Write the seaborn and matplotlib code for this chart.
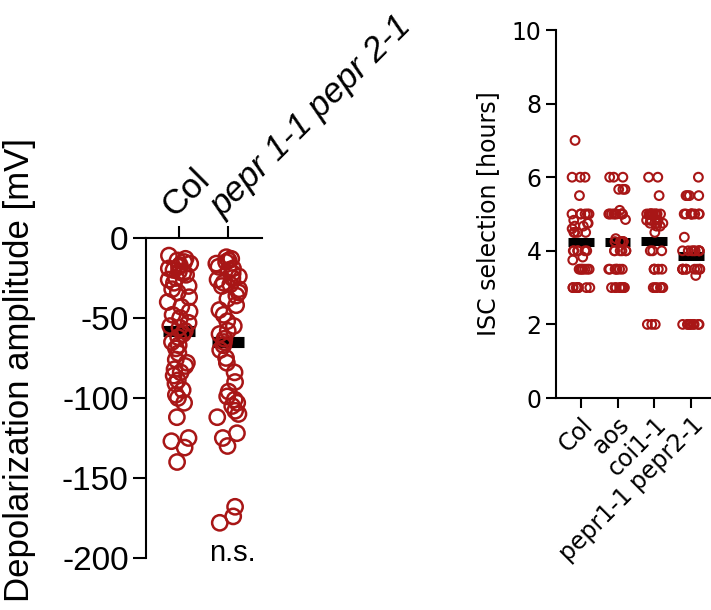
import numpy as np
import pandas as pd
import matplotlib
matplotlib.use('Agg')
import matplotlib.pyplot as plt
import seaborn as sns

# left panel: depolarization amplitude [mV]
depol_groups = ['Col', 'pepr 1-1 pepr 2-1']
col_depol = [-11, -13, -14, -15, -16, -17, -18, -19, -20, -21, -22, -23, -25, -26, -28, -30, -32, -34,
             -37, -40, -43, -46, -48, -50, -53, -55, -56, -58, -60, -62, -65, -67, -69,
             -72, -76, -78, -80, -82, -84, -86, -89, -91, -95, -98, -100, -103,
             -112, -125, -127, -131, -140]
pepr_depol = [-12, -13, -14, -15, -16, -18, -19, -20, -22, -24, -25, -26, -28, -29, -30, -32, -34, -36, -38,
              -42, -45, -48, -52, -55, -58, -60, -63, -65, -67, -70,
              -75, -78, -84, -90, -96, -99, -101, -103, -105, -108, -110, -112,
              -122, -125, -130, -168, -174, -178]

# right panel: ISC selection [hours]
isc_groups = ['Col', 'aos', 'coi1-1', 'pepr1-1 pepr2-1']
isc_col = [7, 6, 6, 6, 5.5, 5, 5, 5, 5, 5, 5,
           4.83, 4.75, 4.75, 4.67, 4.67, 4.6, 4.5, 4.5, 4.5, 4.5,
           4, 4, 4, 4, 4, 4, 3.83, 3.75,
           3.5, 3.5, 3.5, 3.5, 3.5, 3.5, 3.5,
           3, 3, 3, 3, 3, 3, 3, 3]
isc_aos = [6, 6, 6, 5.67, 5.67, 5.67, 5.1, 5, 5, 5, 5, 5, 5, 5, 5, 5, 5, 4.85, 4.33,
           4.25, 4.25, 4.25, 4.25, 4.25, 4, 4, 4, 4, 4, 4,
           3.5, 3.5, 3.5, 3.5, 3.5, 3.5, 3.5,
           3, 3, 3, 3, 3, 3, 3, 3, 3, 3]
isc_coi = [6, 6, 5.5, 5, 5, 5, 5, 5, 5, 5, 5, 5, 5, 5, 5,
           4.83, 4.83, 4.83, 4.83, 4.75, 4.75, 4.75, 4.75, 4.67, 4.67, 4.5,
           4, 4, 4, 3.5, 3.5, 3.5, 3.5, 3.5,
           3, 3, 3, 3, 3, 3, 2, 2, 2]
isc_pepr = [6, 5.5, 5.5, 5.5, 5.5, 5, 5, 5, 5, 5, 5, 5, 5, 5, 4.37,
            4, 4, 4, 4, 4, 4, 4, 4,
            3.5, 3.5, 3.5, 3.5, 3.5, 3.5, 3.5, 3.5, 3.5, 3.33,
            2, 2, 2, 2, 2, 2, 2, 2, 2]

red = '#A81616'

sns.set_style('ticks')
plt.rcParams['font.family'] = ['Liberation Sans', 'DejaVu Sans']
plt.rcParams['axes.unicode_minus'] = False
for key in ['text.color', 'axes.labelcolor', 'xtick.color', 'ytick.color', 'axes.edgecolor']:
    plt.rcParams[key] = 'black'

fig = plt.figure(figsize=(7.11, 6.10), dpi=100)
ax1 = fig.add_axes([146 / 711, 1 - 558 / 610, 116 / 711, 320 / 610])
ax2 = fig.add_axes([556 / 711, 1 - 398 / 610, 155 / 711, 368 / 610])

# ---- left panel
df1 = pd.DataFrame({
    'group': [depol_groups[0]] * len(col_depol) + [depol_groups[1]] * len(pepr_depol),
    'amp': col_depol + pepr_depol,
})
np.random.seed(7)
sns.stripplot(data=df1, x='group', y='amp', order=depol_groups, ax=ax1, jitter=0.24,
              size=11, color=red, facecolors='none', edgecolor=red, linewidth=1.8, zorder=3)
means1 = df1.groupby('group')['amp'].mean()
for i, g in enumerate(depol_groups):
    ax1.hlines(means1[g], i - 0.33, i + 0.33, color='black', lw=8, zorder=2)

ax1.set_xlim(-0.67, 1.69)
ax1.set_ylim(-200, 0)
ax1.set_yticks([0, -50, -100, -150, -200])
ax1.xaxis.tick_top()
ax1.set_xticks([0, 1])
ax1.set_xticklabels(depol_groups, rotation=45, ha='left', va='bottom', rotation_mode='anchor')
ax1.get_xticklabels()[1].set_style('italic')
ax1.tick_params(axis='x', length=9, width=1.5, labelsize=25, pad=2)
ax1.tick_params(axis='y', length=9.5, width=1.5, labelsize=24, pad=3)
ax1.set_xlabel('')
ax1.set_ylabel('')
ax1.spines['bottom'].set_visible(False)
ax1.spines['right'].set_visible(False)
ax1.spines['top'].set_linewidth(1.5)
ax1.spines['left'].set_linewidth(1.5)
ax1.text(1.08, -197, 'n.s.', ha='center', va='center', fontsize=21)
fig.text(20 / 711, 1 - 370 / 610, 'Depolarization amplitude [mV]', rotation=90,
         ha='center', va='center', fontsize=25)

# ---- right panel
df2 = pd.DataFrame({
    'group': [isc_groups[0]] * len(isc_col) + [isc_groups[1]] * len(isc_aos)
             + [isc_groups[2]] * len(isc_coi) + [isc_groups[3]] * len(isc_pepr),
    'hours': isc_col + isc_aos + isc_coi + isc_pepr,
})
np.random.seed(11)
sns.stripplot(data=df2, x='group', y='hours', order=isc_groups, ax=ax2, jitter=0.25, size=6.3,
              color=red, facecolors='none', edgecolor=red, linewidth=1.5, zorder=3)
means2 = df2.groupby('group')['hours'].mean()
for i, g in enumerate(isc_groups):
    ax2.hlines(means2[g], i - 0.35, i + 0.35, color='black', lw=6.5, zorder=2)

ax2.set_xlim(-0.68, 3.55)
ax2.set_ylim(0, 10)
ax2.set_yticks([0, 2, 4, 6, 8, 10])
ax2.set_xticks([0, 1, 2, 3])
ax2.set_xticklabels(isc_groups, rotation=45, ha='right', va='top', rotation_mode='anchor')
ax2.tick_params(length=7, width=1.5, labelsize=17, labelfontfamily='DejaVu Sans')
ax2.set_xlabel('')
ax2.set_ylabel('ISC selection [hours]', fontsize=17, family='DejaVu Sans', labelpad=8)
ax2.spines['top'].set_visible(False)
ax2.spines['right'].set_visible(False)
ax2.spines['bottom'].set_linewidth(1.5)
ax2.spines['left'].set_linewidth(1.5)

fig.savefig('out.png', dpi=100)
